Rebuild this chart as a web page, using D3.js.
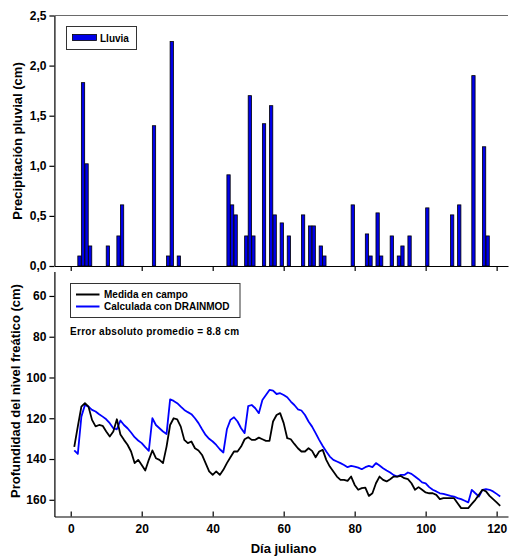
<!DOCTYPE html>
<html>
<head>
<meta charset="utf-8">
<script src="https://cdn.jsdelivr.net/npm/d3@7"></script>
<style>
  html, body { margin: 0; padding: 0; background: #fff; }
  svg text { font-family: "Liberation Sans", Arial, sans-serif; font-weight: bold; fill: #000; }
</style>
</head>
<body>
<svg id="chart" width="509" height="556"></svg>
<script>
// Daily rainfall (cm) by Julian day
const rainDays = [2, 3, 4, 5, 10, 13, 14, 23, 27, 28, 30, 44, 45, 46, 49, 50, 51, 54, 56, 57, 59, 61, 65, 67, 68, 70, 71, 79, 83, 84, 86, 87, 90, 92, 93, 95, 100, 107, 109, 113, 116, 117];
const rainValues = [0.10, 1.83, 1.02, 0.20, 0.20, 0.30, 0.61, 1.40, 0.10, 2.24, 0.10, 0.91, 0.61, 0.51, 0.30, 1.70, 0.30, 1.42, 1.60, 0.51, 0.43, 0.30, 0.51, 0.40, 0.40, 0.20, 0.10, 0.61, 0.32, 0.10, 0.53, 0.10, 0.30, 0.10, 0.20, 0.30, 0.58, 0.51, 0.61, 1.90, 1.19, 0.30];

// Water-table depth (cm), days 1..121
const days = d3.range(1, 122);
const measured = [134, 124, 114.3, 112.6, 114.3, 120.8, 124, 123.3, 123.7, 126.5,
  129, 126.5, 120.5, 128, 130.6, 133, 136.3, 142, 140.4, 142.9,
  145.6, 140.4, 135.8, 139.6, 140.4, 142, 133.9, 123.3, 120, 120.5,
  124.1, 130.6, 132.2, 131.4, 134.7, 135.8, 138, 142, 146.1, 147.8,
  146.1, 147.8, 145.3, 142, 139.1, 136.3, 136.3, 133.9, 130.3, 129.3,
  130.6, 130.6, 129.5, 130.3, 131.1, 131.1, 121.6, 118.4, 117.5, 122.4,
  129.8, 130.3, 132.6, 134.7, 136.3, 136.3, 134.7, 136, 139.1, 136.3,
  135.5, 140.4, 143.7, 146.1, 148.6, 150.2, 150.2, 150.7, 148.6, 152.7,
  155.1, 154.3, 154, 158.1, 156.8, 151.9, 148.6, 150.2, 151, 149.9,
  148.6, 148.6, 148.3, 149.4, 149.9, 151.9, 155.1, 153.8, 155.1, 156.4,
  156.8, 156.8, 157.6, 159.7, 159.2, 159.2, 159.2, 159.2, 161.7, 164.1,
  164.1, 164.1, 162, 160, 157.6, 155.1, 155.9, 158.1, 159.7, 161.3,
  163];
const simulated = [135.8, 137.5, 119.2, 113.5, 114.3, 115.9, 116.7, 118, 119.2, 120.5,
  122.4, 124.9, 125.4, 121.1, 123.3, 124.9, 127, 129.3, 130.9, 132.2,
  134.2, 136, 120, 123.3, 124.9, 126.5, 127.7, 110.7, 111.5, 112.6,
  114.3, 115.9, 117, 118, 120, 122.4, 125.4, 128.2, 130.1, 131.4,
  133.1, 135.2, 136.8, 125.4, 120.8, 119.5, 121.6, 124.9, 127.3, 114,
  113.5, 115.1, 117.5, 111, 108.6, 106.1, 106.4, 108.1, 107.7, 108.6,
  109.7, 111.8, 113.5, 115.6, 116.2, 118.4, 121.6, 124.1, 127.3, 130.6,
  133.6, 136.3, 138.8, 140.4, 141.2, 142, 142.9, 144, 143.4, 143.7,
  144.2, 145, 144, 143.4, 144, 142, 143.2, 144.5, 145.6, 146.6,
  147.9, 148.6, 147.8, 147.8, 146.6, 147.3, 148.6, 149.9, 151.5, 151.9,
  153.8, 155.1, 155.9, 156.8, 157.1, 157.6, 158.1, 158.4, 159.2, 159.7,
  160.5, 161.3, 155.1, 156.8, 158.4, 155.1, 154.8, 155.1, 155.9, 157.1,
  158.4];

const dayTicks = [0, 20, 40, 60, 80, 100, 120];
const rainTicks = [0, 0.5, 1.0, 1.5, 2.0, 2.5];
const depthTicks = [60, 80, 100, 120, 140, 160];

const svg = d3.select("#chart");
const blue = "#0000ff";

// Shared x scale (Julian day); domain runs slightly past the tick range so
// the axis lines reach the frame edges.
const x = d3.scaleLinear().domain([-4.6, 123.2]).range([54.4, 508]);

// ---------- Upper panel: rainfall bars ----------
const yRain = d3.scaleLinear().domain([0, 2.5]).range([266, 15.5]);

svg.append("line")
  .attr("x1", x.range()[0]).attr("x2", x.range()[1])
  .attr("y1", yRain(2.5)).attr("y2", yRain(2.5))
  .attr("stroke", "#6a6a6a").attr("stroke-width", 1.2);

const barW = x(0.93) - x(0);
svg.append("g").selectAll("rect")
  .data(rainDays.map((d, i) => ({ day: d, v: rainValues[i] })))
  .join("rect")
  .attr("x", d => x(d.day))
  .attr("y", d => yRain(d.v))
  .attr("width", barW)
  .attr("height", d => yRain(0) - yRain(d.v))
  .attr("fill", "#0000e8")
  .attr("stroke", "#000")
  .attr("stroke-width", 0.8);

const rainAxis = svg.append("g")
  .attr("transform", `translate(${x.range()[0]},0)`)
  .call(d3.axisLeft(yRain).tickValues(rainTicks).tickSizeOuter(0).tickSizeInner(5).tickPadding(3)
    .tickFormat(d => d3.format(".1f")(d).replace(".", ",")));

const topXAxis = svg.append("g")
  .attr("transform", `translate(0,${yRain(0)})`)
  .call(d3.axisBottom(x).tickValues(dayTicks).tickSizeOuter(0).tickSizeInner(5).tickFormat(""));

// Legend (upper)
const lg1 = svg.append("g");
lg1.append("rect").attr("x", 66.5).attr("y", 26.5).attr("width", 70).attr("height", 23)
  .attr("fill", "#fff").attr("stroke", "#333").attr("stroke-width", 1);
lg1.append("rect").attr("x", 72.5).attr("y", 34.5).attr("width", 24).attr("height", 6)
  .attr("fill", "#0000e8").attr("stroke", "#000").attr("stroke-width", 0.8);
lg1.append("text").attr("x", 100).attr("y", 41.5).attr("font-size", 10).text("Lluvia");

// ---------- Lower panel: water-table depth ----------
const yDepth = d3.scaleLinear().domain([48, 168.2]).range([271.5, 516.5]);

const line = (vals) => d3.line()
  .x((d, i) => x(days[i]))
  .y(d => yDepth(d))(vals);

svg.append("path").attr("d", line(simulated))
  .attr("fill", "none").attr("stroke", blue).attr("stroke-width", 1.8).attr("stroke-linejoin", "round");
svg.append("path").attr("d", line(measured))
  .attr("fill", "none").attr("stroke", "#000").attr("stroke-width", 1.8).attr("stroke-linejoin", "round");

svg.append("g")
  .attr("transform", `translate(${x.range()[0]},0)`)
  .call(d3.axisLeft(yDepth).tickValues(depthTicks).tickSizeOuter(0).tickSizeInner(5).tickPadding(3));

svg.append("g")
  .attr("transform", `translate(0,${yDepth.range()[1]})`)
  .call(d3.axisBottom(x).tickValues(dayTicks).tickSizeOuter(0).tickSizeInner(-5).tickPadding(8));

// Legend (lower)
const lg2 = svg.append("g");
lg2.append("rect").attr("x", 70.5).attr("y", 283.5).attr("width", 169.5).attr("height", 34)
  .attr("fill", "#fff").attr("stroke", "#333").attr("stroke-width", 1);
[["Medida en campo", "#000", 294.5], ["Calculada con DRAINMOD", blue, 306.5]].forEach(([label, col, yy]) => {
  lg2.append("line").attr("x1", 76).attr("x2", 99.5).attr("y1", yy).attr("y2", yy)
    .attr("stroke", col).attr("stroke-width", 2);
  lg2.append("text").attr("x", 104).attr("y", yy + 3.6).attr("font-size", 10).text(label);
});

svg.append("text").attr("x", 70).attr("y", 334.5).attr("font-size", 10)
  .attr("letter-spacing", 0.3).text("Error absoluto promedio = 8.8 cm");

// Styling of all axes
svg.selectAll(".tick text").attr("font-size", 12).attr("font-family", "'Liberation Sans', Arial, sans-serif").attr("font-weight", "bold");
svg.selectAll(".domain, .tick line").attr("stroke", "#000").attr("stroke-width", 1.2);

// Axis titles
svg.append("text")
  .attr("transform", "translate(22,141) rotate(-90)")
  .attr("text-anchor", "middle").attr("font-size", 13)
  .text("Precipitación pluvial (cm)");
svg.append("text")
  .attr("transform", "translate(20,391) rotate(-90)")
  .attr("text-anchor", "middle").attr("font-size", 13)
  .text("Profundidad del nivel freático (cm)");
svg.append("text")
  .attr("x", 283.5).attr("y", 552.5)
  .attr("text-anchor", "middle").attr("font-size", 13)
  .text("Día juliano");
</script>
</body>
</html>
